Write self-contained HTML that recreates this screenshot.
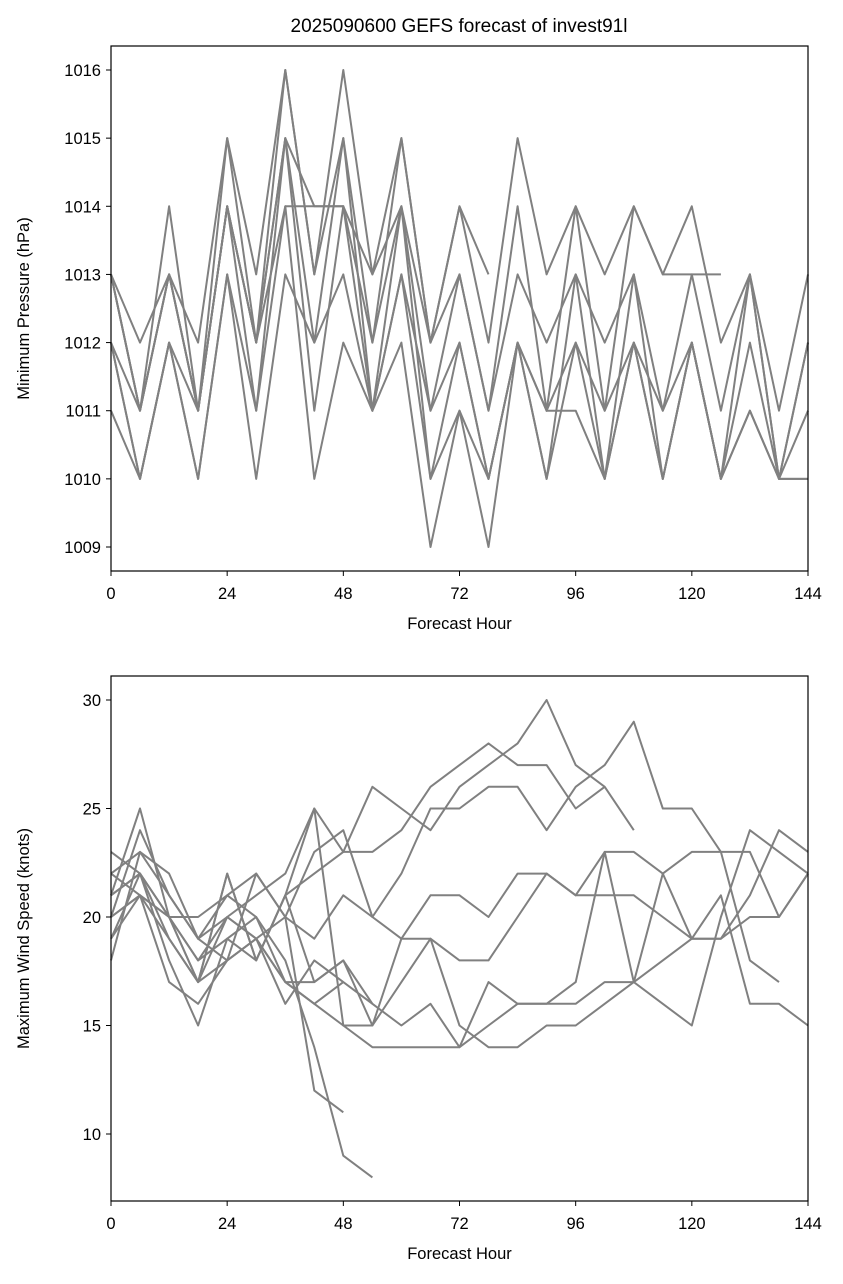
<!DOCTYPE html>
<html><head><meta charset="utf-8"><style>
body{margin:0;background:#fff;}
svg text{font-family:"Liberation Sans","DejaVu Sans",sans-serif;fill:#000;}
</style></head><body>
<svg id="fig" width="843" height="1279" xmlns="http://www.w3.org/2000/svg">
<rect width="843" height="1279" fill="#fff"/>
<text x="459" y="32" font-size="19" text-anchor="middle">2025090600 GEFS forecast of invest91l</text>
<g id="p1"></g>
<g id="p2"></g>
</svg>
<script>
const hours=[0,6,12,18,24,30,36,42,48,54,60,66,72,78,84,90,96,102,108,114,120,126,132,138,144];
const xTicks=[0,24,48,72,96,120,144];
const presTicks=[1009,1010,1011,1012,1013,1014,1015,1016];
const windTicks=[10,15,20,25,30];
const pres1=[1013,1012,1013,1012,1015,1013,1016,1013,1016,1013,1015,1012,1014,1013];
const pres2=[1013,1011,1014,1011,1015,1012,1016,1013,1015,1012,1015,1012,1014,1012,1015,1013,1014,1013,1014,1013,1013,1013];
const pres3=[1012,1011,1013,1011,1014,1012,1015,1014,1014,1012,1014,1011,1013,1011,1014,1011,1014,1011,1014,1013,1014,1012,1013,1011,1013];
const pres4=[1013,1011,1013,1011,1014,1012,1014,1014,1014,1013,1014,1012,1013,1011,1013,1012,1013,1012,1013,1011,1013,1011,1013,1010,1012];
const pres5=[1012,1010,1012,1010,1013,1011,1015,1012,1015,1011,1013,1011,1012,1010,1012,1011,1012,1011,1012,1010,1012,1010,1012,1010,1012];
const pres6=[1011,1010,1012,1010,1013,1010,1013,1012,1013,1011,1013,1010,1011,1010,1012,1010,1012,1010,1012,1010,1012,1010,1011,1010,1011];
const pres7=[1012,1010,1012,1011,1014,1011,1014,1010,1012,1011,1012,1009,1011,1009,1012,1010,1013,1010,1013,1010,1012,1010,1011,1010,1010];
const pres8=[1013,1011,1013,1011,1014,1012,1015,1011,1014,1011,1014,1010,1012,1010,1012,1011,1011,1010,1012,1011,1012,1010,1013,1010,1010];
const presSeries=[pres1,pres2,pres3,pres4,pres5,pres6,pres7,pres8];
const wind1=[20,21,20,17,22,18,21,22,23,26,25,24,26,27,28,30,27,26,24];
const wind2=[21,22,20,18,20,19,20,23,24,20,22,25,25,26,26,24,26,27,29,25,25,23,23,20,22];
const wind3=[22,23,21,19,20,21,22,25,23,23,24,26,27,28,27,27,25,26];
const wind4=[22,21,20,20,21,22,20,19,21,20,19,21,21,20,22,22,21,21,21,20,19,19,21,24,23];
const wind5=[19,21,19,17,18,19,17,17,18,15,19,19,18,18,20,22,21,23,23,22,19,19,20,20,22];
const wind6=[20,21,17,16,18,19,16,18,17,16,15,16,14,17,16,16,17,23,17,18,19,21,16,16,15];
const wind7=[23,22,18,15,19,20,17,16,15,14,14,14,14,15,16,16,16,17,17,16,15,20,24,23,22];
const wind8=[21,25,20,17,22,18,21,25,15,15,17,19,15,14,14,15,15,16,17,22,23,23,18,17];
const wind9=[18,23,22,19,18,22,20,12,11];
const wind10=[20,24,21,19,21,20,18,14,9,8];
const wind11=[21,22,19,17,20,19,17,16,17];
const wind12=[19,22,20,18,19,18,21,17,18,16];
const windSeries=[wind1,wind2,wind3,wind4,wind5,wind6,wind7,wind8,wind9,wind10,wind11,wind12];
const NS="http://www.w3.org/2000/svg";
function mk(t,a,p){const e=document.createElementNS(NS,t);for(const k in a)e.setAttribute(k,a[k]);p.appendChild(e);return e;}
function panel(g,top,bot,ymin,ymax,yTicks,ylabel,series,pfx){
  const L=111,R=808,pyTop=top,pyBot=bot;
  const x=h=>L+(h/144)*(R-L);
  const y=v=>ymax.py+(v-ymax.v)*(ymin.py-ymax.py)/(ymin.v-ymax.v);
  const cg=mk('g',{},g);
  series.forEach((s,i)=>{
    const d=s.map((v,j)=>(j?'L':'M')+x(hours[j]).toFixed(1)+' '+y(v).toFixed(1)).join(' ');
    const p=mk('path',{d:d,fill:'none',stroke:'#808080','stroke-width':2,'stroke-linejoin':'round'},cg);
    
    
  });
  const fr=mk('rect',{x:L,y:pyTop,width:R-L,height:pyBot-pyTop,fill:'none',stroke:'#000','stroke-width':1.2},g);
  
  
  xTicks.forEach(t=>{
    mk('line',{x1:x(t),x2:x(t),y1:pyBot,y2:pyBot+5,stroke:'#000'},g);
    const tx=mk('text',{x:x(t),y:pyBot+28,'font-size':16.5,'text-anchor':'middle'},g);tx.textContent=t;
    
    
  });
  yTicks.forEach(t=>{
    mk('line',{x1:L-5,x2:L,y1:y(t),y2:y(t),stroke:'#000'},g);
    const tx=mk('text',{x:L-10,y:y(t)+6,'font-size':16.5,'text-anchor':'end'},g);tx.textContent=t;
    
    
  });
  const xl=mk('text',{x:(L+R)/2,y:pyBot+58,'font-size':16.5,'text-anchor':'middle'},g);xl.textContent='Forecast Hour';
  
  
  const cy=(pyTop+pyBot)/2;
  const yl=mk('text',{x:29,y:cy,'font-size':16.5,'text-anchor':'middle',transform:'rotate(-90 29 '+cy+')'},g);yl.textContent=ylabel;
  
  
}
panel(document.getElementById('p1'),46,571,{v:1009,py:547},{v:1016,py:70},presTicks,'Minimum Pressure (hPa)',presSeries,'pressure');
panel(document.getElementById('p2'),676,1201,{v:10,py:1134},{v:30,py:700},windTicks,'Maximum Wind Speed (knots)',windSeries,'wind');
</script>
</body></html>
